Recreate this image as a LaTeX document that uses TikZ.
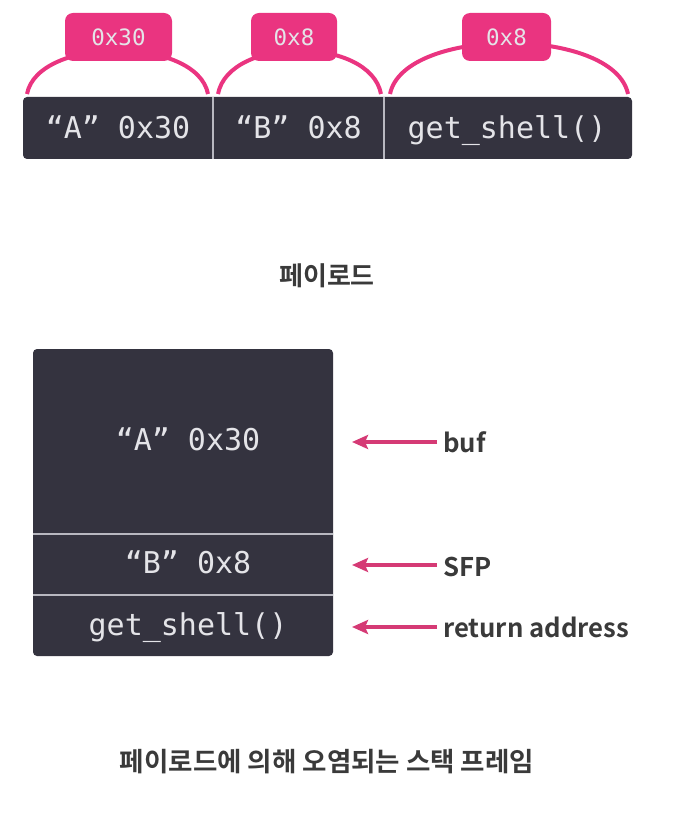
\documentclass[tikz,border=0pt]{standalone}
\usepackage{fontspec}
\setmainfont{Noto Sans CJK KR}
\newfontfamily\krbold{Noto Sans CJK KR Bold}
\newfontfamily\codefont{DejaVu Sans Mono}
\usetikzlibrary{arrows.meta}
\definecolor{darkcell}{HTML}{34333F}
\definecolor{pinkbox}{HTML}{EA3480}
\definecolor{pinkarrow}{HTML}{D53A75}
\definecolor{divgray}{HTML}{B8B8C0}
\definecolor{codetext}{HTML}{E4E4E8}
\definecolor{labeltext}{HTML}{3A3A3A}
\tikzset{
  darkbox/.style={fill=darkcell, rounded corners=4pt, draw=none},
  divider/.style={draw=divgray, line width=1.5pt},
  code/.style={text=codetext, font=\codefont\fontsize{30}{32}\selectfont, inner sep=0pt, anchor=base},
  sizetag/.style={fill=pinkbox, rounded corners=8pt, text=codetext, font=\codefont\fontsize{22.5}{24}\selectfont, inner sep=0pt},
  brace/.style={draw=pinkbox, line width=4pt},
  arr/.style={draw=pinkarrow, line width=4pt, -{Stealth[length=16pt,width=14pt,inset=3pt]}},
  sidelabel/.style={text=labeltext, font=\krbold\fontsize{25.7}{28}\selectfont, inner sep=0pt, anchor=base west},
  caption/.style={text=labeltext, font=\krbold\fontsize{26}{28}\selectfont, inner sep=0pt},
  bigcaption/.style={caption, font=\krbold\fontsize{26.5}{28}\selectfont}
}
\begin{document}
\begin{tikzpicture}[x=1pt,y=-1pt]
\useasboundingbox (0,0) rectangle (674,818);
% arcs (behind tags)
\coordinate (a1l) at (27,94); \coordinate (a1r) at (208,94);
\coordinate (a2l) at (218,94); \coordinate (a2r) at (381,94);
\coordinate (a3l) at (390,94); \coordinate (a3r) at (628,94);
\draw[brace] (a1l) .. controls (38,36) and (197,36) .. (a1r);
\draw[brace] (a2l) .. controls (229,36) and (370,36) .. (a2r);
\draw[brace] (a3l) .. controls (404,26) and (614,26) .. (a3r);
% size tags
\node[sizetag, minimum width=107pt, minimum height=48pt] (t1) at (118.5,37) {0x30};
\node[sizetag, minimum width=86pt, minimum height=48pt] (t2) at (294,37) {0x8};
\node[sizetag, minimum width=89pt, minimum height=48pt] (t3) at (506.5,37) {0x8};
% payload bar
\fill[darkbox] (23,97) rectangle (632,159);
\draw[divider] (213,97) -- (213,159);
\draw[divider] (384,97) -- (384,159);
\node[code] (p1) at (118,139) {“A” 0x30};
\node[code] (p2) at (298.5,139) {“B” 0x8};
\node[code] (p3) at (507,139) {get\_shell()};
% title
\node[caption] (title) at (327,276) {페이로드};
% stack
\fill[darkbox] (33,349) rectangle (333,656);
\draw[divider] (33,534) -- (333,534);
\draw[divider] (33,595) -- (333,595);
\node[code] (s1) at (188,450) {“A” 0x30};
\node[code] (s2) at (188,573) {“B” 0x8};
\node[code] (s3) at (188,635) {get\_shell()};
% labels and arrows
\node[sidelabel] (lbuf) at (443,452) {buf};
\node[sidelabel] (lsfp) at (443,576) {SFP};
\node[sidelabel] (lret) at (443,637) {return address};
\coordinate (e1) at (352,442);
\coordinate (e2) at (352,565);
\coordinate (e3) at (352,627);
\draw[arr] ([xshift=-6pt]lbuf.west |- e1) -- (e1);
\draw[arr] ([xshift=-6pt]lsfp.west |- e2) -- (e2);
\draw[arr] ([xshift=-6pt]lret.west |- e3) -- (e3);
% caption
\node[bigcaption] (cap) at (327,762) {페이로드에 의해 오염되는 스택 프레임};
\end{tikzpicture}
\end{document}
